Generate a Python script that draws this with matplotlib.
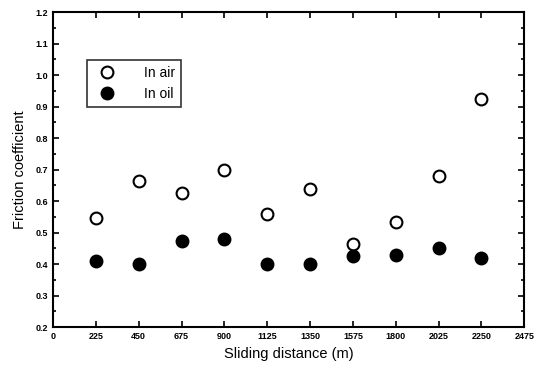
import numpy as np
import matplotlib.pyplot as plt
from matplotlib.ticker import MultipleLocator

plt.rcParams['font.family'] = ['Liberation Sans', 'DejaVu Sans']

# Veriler
mesafe = [225, 450, 675, 900, 1125, 1350, 1575, 1800, 2025, 2250]
hava = [0.545, 0.665, 0.625, 0.70, 0.56, 0.64, 0.465, 0.535, 0.68, 0.925]
yag = [0.41, 0.40, 0.475, 0.48, 0.40, 0.40, 0.425, 0.43, 0.45, 0.42]
x_ticks = [0, 225, 450, 675, 900, 1125, 1350, 1575, 1800, 2025, 2250, 2475]
y_ticks = [0.2, 0.3, 0.4, 0.5, 0.6, 0.7, 0.8, 0.9, 1.0, 1.1, 1.2]

fig = plt.figure(figsize=(5.36, 3.68), dpi=100)
ax = fig.add_axes([0.099, 0.111, 0.879, 0.856])

ax.plot(mesafe, hava, 'o', markersize=8.5, markerfacecolor='white',
        markeredgecolor='black', markeredgewidth=1.5, linestyle='none', label='In air')
ax.plot(mesafe, yag, 'o', markersize=9, color='black', linestyle='none', label='In oil')

ax.set_xlim(0, 2475)
ax.set_ylim(0.2, 1.2)
ax.set_xticks(x_ticks)
ax.set_yticks(y_ticks)
ax.yaxis.set_minor_locator(MultipleLocator(0.05))
ax.set_xticklabels([str(t) for t in x_ticks], fontsize=6.5, fontweight='bold')
ax.set_yticklabels([f"{t:.1f}" for t in y_ticks], fontsize=6.5, fontweight='bold')
ax.tick_params(which='both', direction='in', top=True, right=True, width=1.2)
ax.tick_params(which='major', length=4)
ax.tick_params(which='minor', length=2)

for s in ax.spines.values():
    s.set_linewidth(1.5)

ax.set_xlabel("Sliding distance (m)", fontsize=10.5, labelpad=4)
ax.set_ylabel("Friction coefficient", fontsize=10.5, labelpad=6)

leg = ax.legend(loc='upper left', bbox_to_anchor=(0.058, 0.87), fontsize=10,
                frameon=True, fancybox=False, edgecolor='black',
                handletextpad=1.6, borderpad=0.45, labelspacing=0.45)
leg.get_frame().set_linewidth(1.2)

plt.savefig("out.png", dpi=100)
plt.close(fig)
